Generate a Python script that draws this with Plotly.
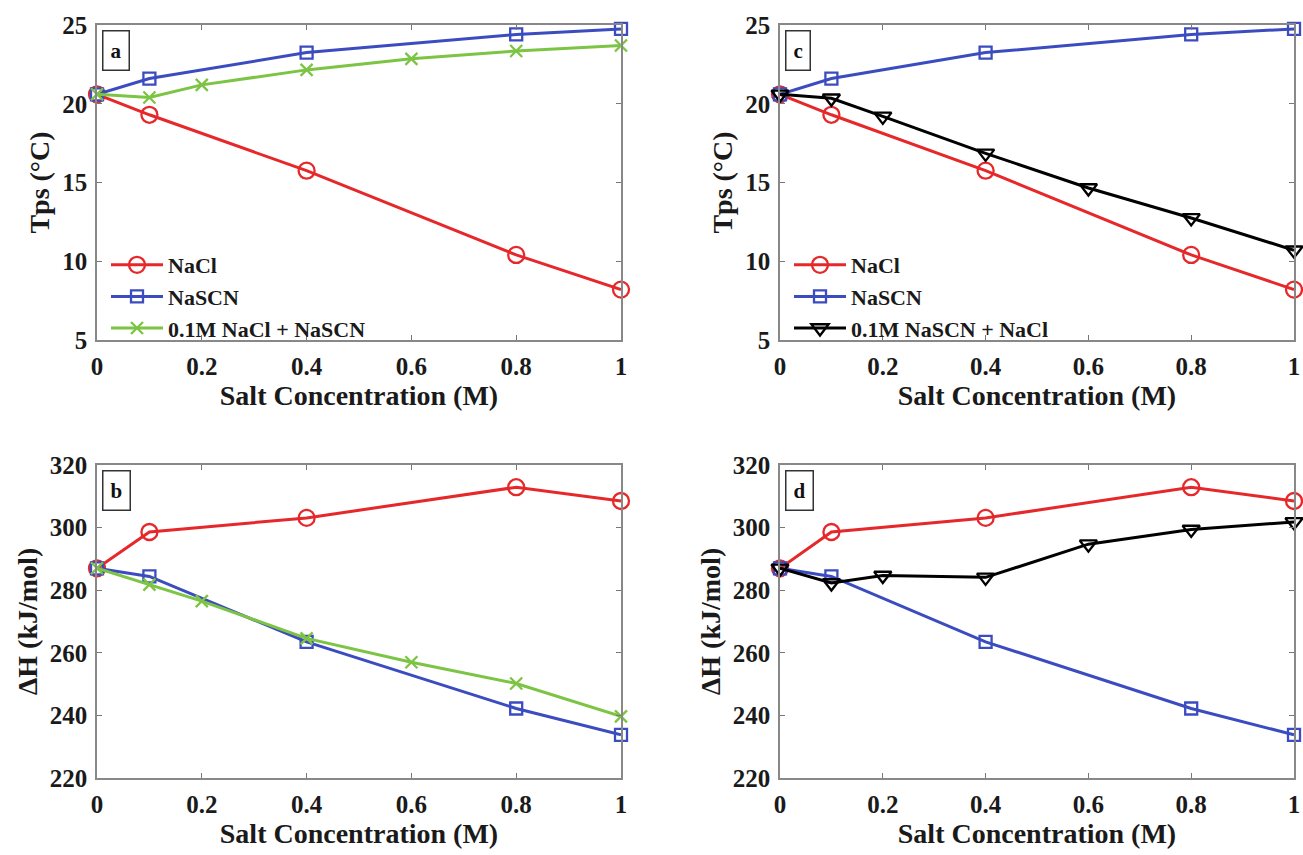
import plotly.graph_objects as go

# ---- data ----
x_salt = [0, 0.1, 0.4, 0.8, 1.0]
x_mix = [0, 0.1, 0.2, 0.4, 0.6, 0.8, 1.0]

tps_nacl = [20.6, 19.3, 15.75, 10.4, 8.2]
tps_nascn = [20.6, 21.6, 23.25, 24.4, 24.75]
tps_mix_a = [20.6, 20.4, 21.2, 22.15, 22.85, 23.35, 23.7]   # 0.1M NaCl + NaSCN
tps_mix_c = [20.6, 20.35, 19.2, 16.85, 14.65, 12.75, 10.7]  # 0.1M NaSCN + NaCl

dh_nacl = [287.0, 298.6, 303.1, 312.9, 308.5]
dh_nascn = [287.0, 284.4, 263.5, 242.2, 233.8]
dh_mix_b = [287.0, 281.8, 276.5, 264.6, 257.0, 250.2, 239.7]
dh_mix_d = [287.0, 282.3, 284.7, 284.1, 294.7, 299.4, 301.8]

x_ticks = [0, 0.2, 0.4, 0.6, 0.8, 1]
x_ticktext = ["0", "0.2", "0.4", "0.6", "0.8", "1"]
tps_ticks = [5, 10, 15, 20, 25]
dh_ticks = [220, 240, 260, 280, 300, 320]

names = {"nacl": "NaCl", "nascn": "NaSCN",
         "mix_a": "0.1M NaCl + NaSCN", "mix_c": "0.1M NaSCN + NaCl"}
panel_labels = ["a", "b", "c", "d"]

RED = "#e6282b"
BLUE = "#3b4cc0"
GREEN = "#7cc443"
BLACK = "#000000"
FONT = "Liberation Serif, Times New Roman, serif"
TXT = "#1a1a1a"

fig = go.Figure()

def add(x, y, name, color, symbol, size, xa, ya, legend, show):
    fig.add_trace(go.Scatter(
        x=x, y=y, name="<b>%s</b>" % name, mode="lines+markers",
        line=dict(color=color, width=3),
        marker=dict(symbol=symbol, size=size, color=color,
                    line=dict(color=color, width=2.3)),
        xaxis=xa, yaxis=ya, legend=legend, showlegend=show, cliponaxis=False))

# panel a
add(x_salt, tps_nacl, names["nacl"], RED, "circle-open", 16, "x", "y", "legend", True)
add(x_salt, tps_nascn, names["nascn"], BLUE, "square-open", 12, "x", "y", "legend", True)
add(x_mix, tps_mix_a, names["mix_a"], GREEN, "x-thin-open", 12, "x", "y", "legend", True)
# panel b
add(x_salt, dh_nacl, names["nacl"], RED, "circle-open", 16, "x2", "y2", "legend", False)
add(x_salt, dh_nascn, names["nascn"], BLUE, "square-open", 12, "x2", "y2", "legend", False)
add(x_mix, dh_mix_b, names["mix_a"], GREEN, "x-thin-open", 12, "x2", "y2", "legend", False)
# panel c
add(x_salt, tps_nacl, names["nacl"], RED, "circle-open", 16, "x3", "y3", "legend2", True)
add(x_salt, tps_nascn, names["nascn"], BLUE, "square-open", 12, "x3", "y3", "legend2", True)
add(x_mix, tps_mix_c, names["mix_c"], BLACK, "triangle-down-open", 15, "x3", "y3", "legend2", True)
# panel d
add(x_salt, dh_nacl, names["nacl"], RED, "circle-open", 16, "x4", "y4", "legend2", False)
add(x_salt, dh_nascn, names["nascn"], BLUE, "square-open", 12, "x4", "y4", "legend2", False)
add(x_mix, dh_mix_d, names["mix_c"], BLACK, "triangle-down-open", 15, "x4", "y4", "legend2", False)

W, H = 1303, 855
def px_x(p): return p / W
def px_y(p): return 1 - p / H

left_dom = [px_x(97), px_x(621)]
right_dom = [px_x(780), px_x(1294)]
top_dom = [px_y(340), px_y(25)]
bot_dom = [px_y(778), px_y(465)]

tick_font = dict(family=FONT, size=25, color=TXT)
title_font = dict(family=FONT, size=28, color=TXT)

def xaxis(dom, anchor):
    return dict(domain=dom, anchor=anchor, range=[0, 1], tickvals=x_ticks,
                ticktext=["<b>%s</b>" % t for t in x_ticktext],
                ticks="inside", ticklen=5, tickcolor="#777", showline=True,
                linecolor="#888", linewidth=1.5, mirror="ticks", showgrid=False,
                zeroline=False, tickfont=tick_font, automargin=False,
                ticklabeloverflow="allow", ticklabelstandoff=3,
                title=dict(text="<b>Salt Concentration (M)</b>", font=title_font, standoff=0))

def yaxis(dom, anchor, rng, ticks, title):
    return dict(domain=dom, anchor=anchor, range=rng, tickvals=ticks,
                ticktext=["<b>%d</b>" % t for t in ticks],
                ticks="inside", ticklen=5, tickcolor="#777", showline=True,
                linecolor="#888", linewidth=1.5, mirror="ticks", showgrid=False,
                zeroline=False, tickfont=tick_font, automargin=False,
                ticklabelstandoff=3,
                title=dict(text="<b>%s</b>" % title, font=title_font, standoff=4))

leg_font = dict(family=FONT, size=22, color=TXT)
fig.update_layout(
    width=W, height=H, margin=dict(l=0, r=0, t=0, b=0),
    paper_bgcolor="white", plot_bgcolor="white",
    xaxis=xaxis(left_dom, "y"), yaxis=yaxis(top_dom, "x", [5, 25], tps_ticks, "Tps (°C)"),
    xaxis2=xaxis(left_dom, "y2"), yaxis2=yaxis(bot_dom, "x2", [220, 320], dh_ticks, "ΔH (kJ/mol)"),
    xaxis3=xaxis(right_dom, "y3"), yaxis3=yaxis(top_dom, "x3", [5, 25], tps_ticks, "Tps (°C)"),
    xaxis4=xaxis(right_dom, "y4"), yaxis4=yaxis(bot_dom, "x4", [220, 320], dh_ticks, "ΔH (kJ/mol)"),
    legend=dict(x=px_x(106), y=px_y(244), xanchor="left", yanchor="top",
                bgcolor="rgba(0,0,0,0)", itemwidth=52, tracegroupgap=0, font=leg_font),
    legend2=dict(x=px_x(789), y=px_y(244), xanchor="left", yanchor="top",
                 bgcolor="rgba(0,0,0,0)", itemwidth=52, tracegroupgap=0, font=leg_font),
)

for i, (xa, ya) in enumerate([("x", "y"), ("x2", "y2"), ("x3", "y3"), ("x4", "y4")]):
    fig.add_annotation(x=5 / 524, y=0.985,
                       xref=xa + " domain", yref=ya + " domain",
                       xanchor="left", yanchor="top", showarrow=False,
                       text="<b>%s</b>" % panel_labels[i],
                       font=dict(family=FONT, size=21, color="#111"),
                       bordercolor="#333", borderwidth=1.5, borderpad=7, bgcolor="white")

fig.write_html("out.html", config={"displayModeBar": False},
               post_script="document.body.style.margin='0';")
